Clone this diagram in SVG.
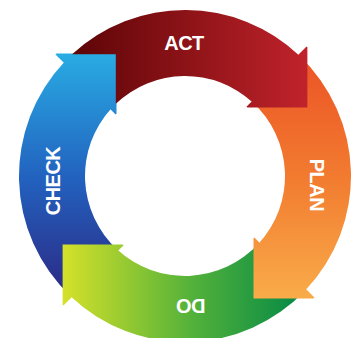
<svg xmlns="http://www.w3.org/2000/svg" width="352" height="338" viewBox="0 0 352 338">
  <defs>
    <linearGradient id="gAct" gradientUnits="userSpaceOnUse" x1="75" y1="0" x2="310" y2="0">
      <stop offset="0" stop-color="#5e0508"/>
      <stop offset="0.5" stop-color="#8f1418"/>
      <stop offset="1" stop-color="#c2232c"/>
    </linearGradient>
    <linearGradient id="gPlan" gradientUnits="userSpaceOnUse" x1="0" y1="60" x2="0" y2="300">
      <stop offset="0" stop-color="#ec5426"/>
      <stop offset="0.5" stop-color="#f27c30"/>
      <stop offset="1" stop-color="#f9ac4a"/>
    </linearGradient>
    <linearGradient id="gDo" gradientUnits="userSpaceOnUse" x1="300" y1="0" x2="62" y2="0">
      <stop offset="0" stop-color="#068a46"/>
      <stop offset="0.45" stop-color="#52b13a"/>
      <stop offset="1" stop-color="#d6e12a"/>
    </linearGradient>
    <linearGradient id="gCheck" gradientUnits="userSpaceOnUse" x1="0" y1="300" x2="0" y2="55">
      <stop offset="0" stop-color="#2c2782"/>
      <stop offset="0.5" stop-color="#2262bf"/>
      <stop offset="1" stop-color="#29abe3"/>
    </linearGradient>
  </defs>
  <style>
    .lbl { font-family: "Liberation Sans", Arial, sans-serif; font-weight: bold; font-size: 20px; fill: #ffffff; text-anchor: middle; letter-spacing: -0.5px; }
  </style>
  <rect width="352" height="338" fill="#ffffff"/>
  <g id="connectors">
    <g id="check">
      <path fill="url(#gCheck)" d="M70.77,296.45 A166,166 0 0 1 64.55,61.77 L111.25,108.47 A100,100 0 0 0 117.47,249.75 Z"/>
      <polygon fill="url(#gCheck)" points="56.38,53.60 116.48,53.60 116.48,113.70 115.63,114.55 55.53,54.45"/>
      <text class="lbl" transform="translate(53,181) rotate(-90)" x="0" y="7.2">CHECK</text>
    </g>
    <g id="do">
      <path fill="url(#gDo)" d="M305.45,290.23 A166,166 0 0 1 70.77,296.45 L117.47,249.75 A100,100 0 0 0 258.75,243.53 Z"/>
      <polygon fill="url(#gDo)" points="62.60,304.62 62.60,244.52 122.70,244.52 123.55,245.37 63.45,305.47"/>
      <text class="lbl" transform="translate(191,306) rotate(180)" x="0" y="7.2">DO</text>
    </g>
    <g id="plan">
      <path fill="url(#gPlan)" d="M299.23,55.55 A166,166 0 0 1 305.45,290.23 L258.75,243.53 A100,100 0 0 0 252.53,102.25 Z"/>
      <polygon fill="url(#gPlan)" points="313.62,298.40 253.52,298.40 253.52,238.30 254.37,237.45 314.47,297.55"/>
      <text class="lbl" transform="translate(317,185) rotate(90)" x="0" y="7.2">PLAN</text>
    </g>
    <g id="act">
      <path fill="url(#gAct)" d="M72.11,54.30 A166,166 0 0 1 299.23,55.55 L252.53,102.25 A100,100 0 0 0 115.80,103.81 L115.80,54.30 Z"/>
      <polygon fill="url(#gAct)" points="307.40,47.38 307.40,107.48 247.30,107.48 246.45,106.63 306.55,46.53"/>
      <text class="lbl" x="184" y="49.5">ACT</text>
    </g>
  </g>
</svg>
